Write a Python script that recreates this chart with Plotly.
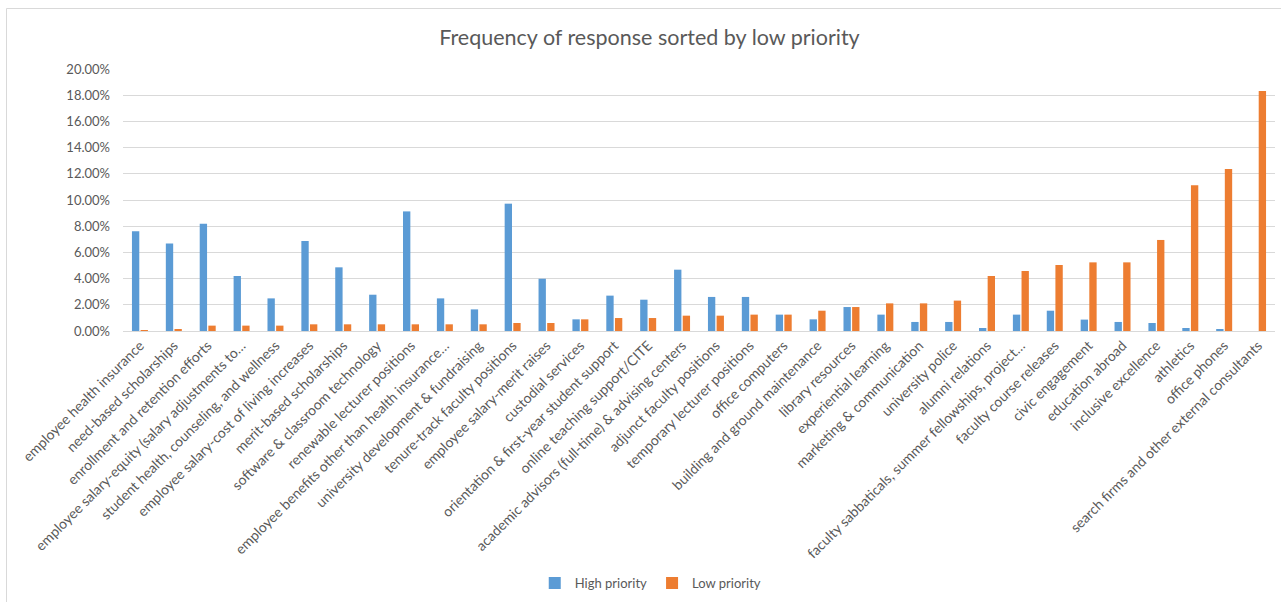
import plotly.graph_objects as go

categories = [
    "employee health insurance",
    "need-based scholarships",
    "enrollment and retention efforts",
    "employee salary-equity (salary adjustments to…",
    "student health, counseling, and wellness",
    "employee salary-cost of living increases",
    "merit-based scholarships",
    "software & classroom technology",
    "renewable lecturer positions",
    "employee benefits other than health insurance…",
    "university development & fundraising",
    "tenure-track faculty positions",
    "employee salary-merit raises",
    "custodial services",
    "orientation & first-year student support",
    "online teaching support/CITE",
    "academic advisors (full-time) & advising centers",
    "adjunct faculty positions",
    "temporary lecturer positions",
    "office computers",
    "building and ground maintenance",
    "library resources",
    "experiential learning",
    "marketing & communication",
    "university police",
    "alumni relations",
    "faculty sabbaticals, summer fellowships, project…",
    "faculty course releases",
    "civic engagement",
    "education abroad",
    "inclusive excellence",
    "athletics",
    "office phones",
    "search firms and other external consultants",
]

high_priority = [0.0761, 0.0667, 0.0819, 0.0420, 0.0249, 0.0687, 0.0486, 0.0277, 0.0913, 0.0249,
                 0.0165, 0.0972, 0.0399, 0.0089, 0.0270, 0.0239, 0.0468, 0.0260, 0.0260, 0.0125,
                 0.0089, 0.0183, 0.0125, 0.0069, 0.0069, 0.0023, 0.0125, 0.0155, 0.0087, 0.0069,
                 0.0061, 0.0023, 0.0010, 0.0000]

low_priority = [0.0005, 0.0013, 0.0041, 0.0041, 0.0041, 0.0051, 0.0051, 0.0051, 0.0051, 0.0051,
                0.0051, 0.0061, 0.0061, 0.0089, 0.0099, 0.0099, 0.0117, 0.0117, 0.0125, 0.0125,
                0.0155, 0.0183, 0.0211, 0.0211, 0.0232, 0.0420, 0.0458, 0.0504, 0.0524, 0.0524,
                0.0695, 0.1112, 0.1237, 0.1832]

y_ticks = [0, 0.02, 0.04, 0.06, 0.08, 0.10, 0.12, 0.14, 0.16, 0.18, 0.20]
y_tick_labels = ["0.00%", "2.00%", "4.00%", "6.00%", "8.00%", "10.00%",
                 "12.00%", "14.00%", "16.00%", "18.00%", "20.00%"]

FONT = "Lato"
TXT = "#595959"

fig = go.Figure()
fig.add_trace(go.Bar(name="High priority", x=categories, y=high_priority,
                     marker=dict(color="#5B9BD5", line=dict(width=0))))
fig.add_trace(go.Bar(name="Low priority", x=categories, y=low_priority,
                     marker=dict(color="#ED7D31", line=dict(width=0))))

fig.update_layout(
    width=1281, height=602,
    margin=dict(l=123, r=6, t=69, b=271),
    paper_bgcolor="white", plot_bgcolor="white",
    font=dict(family=FONT, color=TXT, size=12),
    barmode="group", bargap=0.49, bargroupgap=0.15,
    title=dict(text="Frequency of response sorted by low priority",
               x=0.507, xanchor="center", y=1 - 37 / 602, yanchor="middle",
               yref="container",
               font=dict(family=FONT, size=21.5, color=TXT)),
    legend=dict(orientation="h", x=0.508, xanchor="center", xref="container",
                y=1 - 583 / 602, yanchor="middle", yref="container",
                font=dict(family=FONT, size=13, color=TXT),
                itemwidth=30, traceorder="normal"),
    xaxis=dict(tickangle=-45, tickfont=dict(family=FONT, size=14, color=TXT),
               showline=True, linecolor="#D9D9D9", linewidth=1,
               ticks="", showgrid=False, automargin=False),
    yaxis=dict(range=[0, 0.20], tickvals=y_ticks, ticktext=y_tick_labels,
               tickfont=dict(family=FONT, size=13, color=TXT),
               ticklabelstandoff=12,
               showgrid=True, gridcolor="#D9D9D9", gridwidth=1,
               zeroline=False, showline=False, ticks="", automargin=False),
    shapes=[
        dict(type="line", xref="paper", yref="paper",
             x0=(6.5 - 123) / 1152, x1=1.1, y0=1 + (69 - 8.5) / 262, y1=1 + (69 - 8.5) / 262,
             line=dict(color="#D9D9D9", width=1)),
        dict(type="line", xref="paper", yref="paper",
             x0=(6.5 - 123) / 1152, x1=(6.5 - 123) / 1152, y0=1 + (69 - 8.5) / 262, y1=-1.2,
             line=dict(color="#D9D9D9", width=1)),
    ],
)

fig.write_html("out.html")
